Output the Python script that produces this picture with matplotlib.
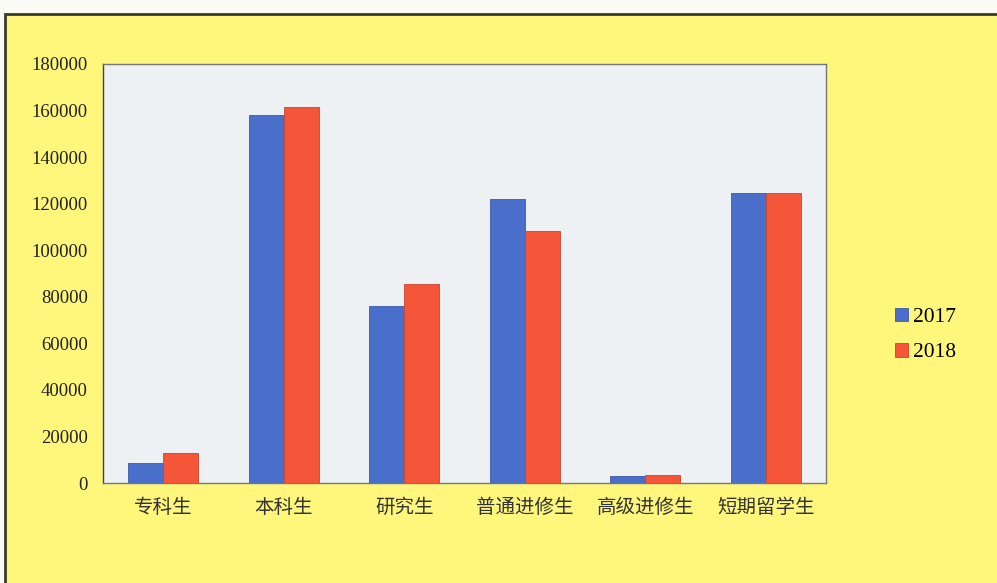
import matplotlib
matplotlib.use("Agg")
import matplotlib.pyplot as plt
import numpy as np
from matplotlib.patches import Rectangle

categories = ["专科生", "本科生", "研究生", "普通进修生", "高级进修生", "短期留学生"]
series_2017 = [8600, 158300, 76200, 122000, 3100, 124600]
series_2018 = [13000, 161600, 85300, 108400, 3400, 124600]
series_names = ["2017", "2018"]
yticks = [0, 20000, 40000, 60000, 80000, 100000, 120000, 140000, 160000, 180000]

YELLOW = "#FFF77C"
BLUE = "#4A6FCB"
RED = "#F5563A"
PLOT_BG = "#EDF1F4"

fig = plt.figure(figsize=(9.97, 5.83), dpi=100)
fig.patch.set_facecolor("#FBFBF6")
W, H = 997, 583
frame = Rectangle((5 / W, -0.01), 1.0, (583 - 14) / H + 0.01, transform=fig.transFigure,
                  facecolor=YELLOW, edgecolor="#3a3a30", linewidth=2.0, zorder=-5)
fig.patches.append(frame)

ax = fig.add_axes([103 / W, 1 - 483 / H, (826 - 103) / W, (483 - 64) / H])
ax.set_zorder(2)
ax.set_facecolor(PLOT_BG)
x = np.arange(len(categories))
bw = 0.29
ax.bar(x - bw / 2, series_2017, bw, color=BLUE, edgecolor="#3d5aa8", linewidth=0.6, label=series_names[0], zorder=3)
ax.bar(x + bw / 2, series_2018, bw, color=RED, edgecolor="#c9442e", linewidth=0.6, label=series_names[1], zorder=3)
ax.set_xlim(-0.5, len(categories) - 0.5)
ax.set_ylim(0, 180000)
ax.set_yticks(yticks)
ax.set_yticklabels([str(v) for v in yticks], fontfamily="Liberation Serif", fontsize=13.5, color="#222222")
ax.set_xticks(x)
ax.set_xticklabels(categories, fontfamily=["Noto Sans CJK SC", "DejaVu Sans"], fontsize=14, color="#333333")
ax.tick_params(axis="y", length=0, pad=11)
ax.tick_params(axis="x", length=0, pad=10)
for s in ["left", "right", "top", "bottom"]:
    ax.spines[s].set_color("#777777")
    ax.spines[s].set_linewidth(1.0)
ax.spines["left"].set_color("#444444")

leg = fig.legend(loc="center left", bbox_to_anchor=(876 / W, 1 - 335 / H), frameon=False,
                 prop={"family": "Liberation Serif", "size": 15.5}, handlelength=0.6, handleheight=0.6,
                 handletextpad=0.2, labelspacing=0.75)
leg.set_zorder(3)

fig.savefig("out.png", dpi=100, facecolor=fig.get_facecolor())
